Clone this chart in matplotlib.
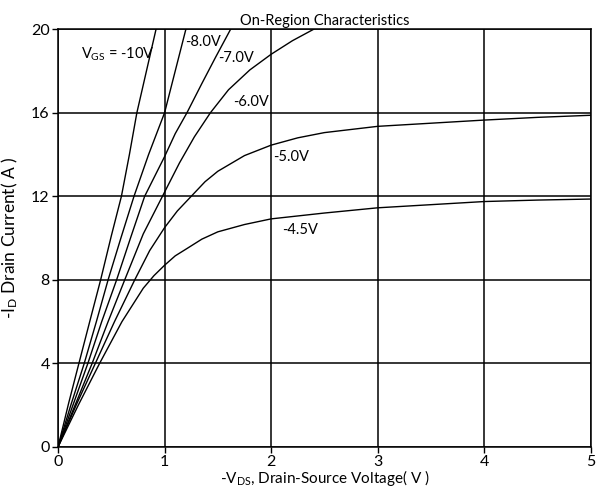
import numpy as np
import matplotlib
matplotlib.use('Agg')
import matplotlib.pyplot as plt

plt.rcParams['font.family'] = ['Lato', 'DejaVu Sans']
plt.rcParams['mathtext.fontset'] = 'custom'
plt.rcParams['mathtext.rm'] = 'Lato'
plt.rcParams['mathtext.it'] = 'Lato'

# curves: -Vds (V) vs -Id (A)
vgs_10_x = [0, 0.1, 0.196, 0.3, 0.40, 0.5, 0.595, 0.67, 0.74, 0.83, 0.92]
vgs_10_y = [0, 2.1, 4, 6.05, 8, 10.1, 12, 14, 16, 18, 20]

vgs_8_x = [0, 0.12, 0.246, 0.36, 0.47, 0.59, 0.713, 0.85, 1.0, 1.1, 1.2]
vgs_8_y = [0, 2, 4, 6, 8, 10, 12, 14, 16, 18, 20]

vgs_7_x = [0, 0.14, 0.28, 0.41, 0.55, 0.68, 0.813, 1.0, 1.1, 1.21, 1.35, 1.48, 1.62]
vgs_7_y = [0, 2, 4, 6, 8, 10, 12, 13.9, 15, 16, 17.4, 18.67, 20]

vgs_6_x = [0, 0.16, 0.32, 0.47, 0.626, 0.8, 1.0, 1.14, 1.28, 1.43, 1.6, 1.8, 2.0, 2.2, 2.4]
vgs_6_y = [0, 2, 4, 6, 8, 10.2, 12.2, 13.6, 14.85, 16, 17.1, 18.05, 18.8, 19.45, 20]

vgs_5_x = [0, 0.17, 0.35, 0.53, 0.72, 0.86, 1.0, 1.12, 1.25, 1.38, 1.5, 1.75,
           2.0, 2.25, 2.5, 3.0, 3.5, 4.0, 4.5, 5.0]
vgs_5_y = [0, 2, 4, 6, 8, 9.4, 10.5, 11.3, 12, 12.7, 13.2, 13.95,
           14.45, 14.8, 15.05, 15.35, 15.5, 15.65, 15.78, 15.88]

vgs_45_x = [0, 0.19, 0.39, 0.6, 0.8, 0.9, 1.0, 1.1, 1.21, 1.35, 1.5, 1.75,
            2.0, 2.5, 3.0, 3.5, 4.0, 4.5, 5.0]
vgs_45_y = [0, 2, 4, 6, 7.6, 8.2, 8.7, 9.15, 9.5, 9.95, 10.3, 10.65,
            10.92, 11.2, 11.45, 11.6, 11.75, 11.82, 11.87]

curve_labels = ['-8.0V', '-7.0V', '-6.0V', '-5.0V', '-4.5V']
label_x = [1.19, 1.50, 1.64, 2.02, 2.10]
label_y = [19.4, 18.6, 16.5, 13.86, 10.4]

fig = plt.figure(figsize=(5.98, 4.95), dpi=100)
ax = fig.add_axes([0.097, 0.097, 0.891, 0.844])

for xs, ys in [(vgs_10_x, vgs_10_y), (vgs_8_x, vgs_8_y), (vgs_7_x, vgs_7_y),
               (vgs_6_x, vgs_6_y), (vgs_5_x, vgs_5_y), (vgs_45_x, vgs_45_y)]:
    ax.plot(xs, ys, color='black', linewidth=1.0)

ax.text(0.22, 18.8, '$V_{GS}$ = -10V', fontsize=10.5, va='center', ha='left')
for lab, lx, ly in zip(curve_labels, label_x, label_y):
    ax.text(lx, ly, lab, fontsize=10.5, va='center', ha='left')

ax.set_xlim(0, 5)
ax.set_ylim(0, 20)
ax.set_xticks([0, 1, 2, 3, 4, 5])
ax.set_yticks([0, 4, 8, 12, 16, 20])
ax.grid(True, color='black', linewidth=1.1)
for s in ax.spines.values():
    s.set_color('black')
    s.set_linewidth(1.1)
ax.tick_params(labelsize=11.5, length=4, width=1, pad=2)

ax.set_title('On-Region Characteristics', fontsize=10.5, pad=3)
ax.set_xlabel('-V$_{DS}$, Drain-Source Voltage( V )', fontsize=11, labelpad=-1)
ax.set_ylabel('-I$_{D}$ Drain Current( A )', fontsize=12.5, labelpad=8)

plt.savefig('out.png', dpi=100)
